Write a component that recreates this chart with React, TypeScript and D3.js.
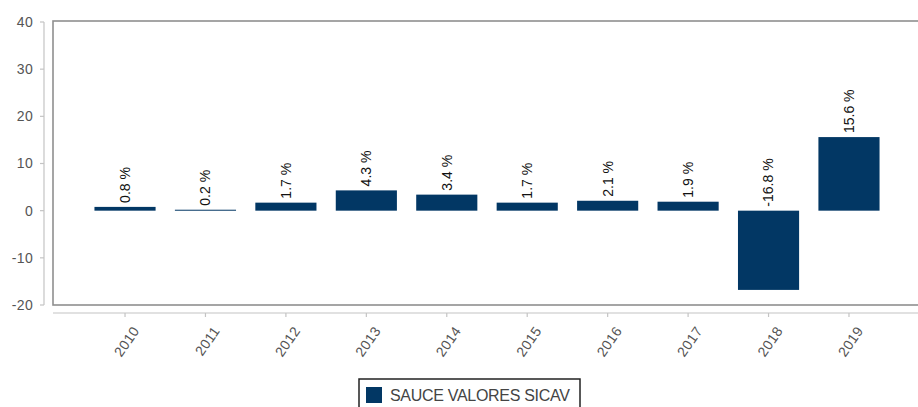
import React from "react";
import * as d3 from "d3";

const years = ["2010", "2011", "2012", "2013", "2014", "2015", "2016", "2017", "2018", "2019"];
const values = [0.8, 0.2, 1.7, 4.3, 3.4, 1.7, 2.1, 1.9, -16.8, 15.6];
const valueLabels = ["0.8 %", "0.2 %", "1.7 %", "4.3 %", "3.4 %", "1.7 %", "2.1 %", "1.9 %", "-16.8 %", "15.6 %"];
const yTicks = [40, 30, 20, 10, 0, -10, -20];
const seriesName = "SAUCE VALORES SICAV";

const W = 918;
const H = 407;
const BAR = "#023764";
const FONT = "Liberation Sans, Arial, sans-serif";

export default function App() {
  const y = d3.scaleLinear().domain([-20, 40]).range([305, 22]);
  const x = d3.scaleBand().domain(years).range([84.8, 889.2]).paddingInner(0.24).paddingOuter(0.12);
  const bw = x.bandwidth();
  return (
    <svg width={W} height={H} style={{ position: "absolute", left: 0, top: 0, background: "#fff" }} fontFamily={FONT}>
      {/* plot frame */}
      <rect x={53} y={21} width={880} height={284} fill="none" stroke="#8f8f8f" strokeWidth={1.6} />
      {/* y axis */}
      <line x1={44} x2={44} y1={y(40)} y2={y(-20)} stroke="#c4c4c4" strokeWidth={1.2} />
      {yTicks.map((t) => (
        <g key={t}>
          <line x1={40} x2={44} y1={y(t)} y2={y(t)} stroke="#c4c4c4" strokeWidth={1.2} />
          <text x={33} y={y(t)} dy="0.35em" textAnchor="end" fontSize={14} fill="#555" letterSpacing={0.3}>
            {t}
          </text>
        </g>
      ))}
      {/* x axis */}
      <line x1={53} x2={918} y1={313} y2={313} stroke="#c4c4c4" strokeWidth={1.2} />
      {years.map((yr) => {
        const cx = (x(yr) as number) + bw / 2;
        return (
          <g key={yr}>
            <line x1={cx} x2={cx} y1={313} y2={317} stroke="#c4c4c4" strokeWidth={1.2} />
            <text
              transform={`translate(${cx + 11},${328}) rotate(-55)`}
              textAnchor="end"
              dy="0.35em"
              fontSize={14}
              fill="#555"
              letterSpacing={0.4}
            >
              {yr}
            </text>
          </g>
        );
      })}
      {/* bars */}
      {years.map((yr, i) => {
        const v = values[i];
        const x0 = x(yr) as number;
        const top = y(Math.max(0, v));
        const bot = y(Math.min(0, v));
        const cx = x0 + bw / 2;
        const labelBase = y(Math.max(0, v)) - 4;
        return (
          <g key={yr}>
            <rect x={x0} y={top} width={bw} height={Math.max(1, bot - top)} fill={BAR} />
            <text
              transform={`translate(${cx},${labelBase}) rotate(-90)`}
              dy="0.35em"
              textAnchor="start"
              fontSize={14}
              fill="#111"
            >
              {valueLabels[i]}
            </text>
          </g>
        );
      })}
      {/* legend */}
      <rect x={359} y={379} width={221} height={34} fill="#fff" stroke="#222" strokeWidth={1.5} />
      <rect x={366} y={387} width={16} height={16} fill={BAR} />
      <text x={390} y={395} dy="0.35em" fontSize={16} fill="#444" letterSpacing={-0.3}>
        {seriesName}
      </text>
    </svg>
  );
}
